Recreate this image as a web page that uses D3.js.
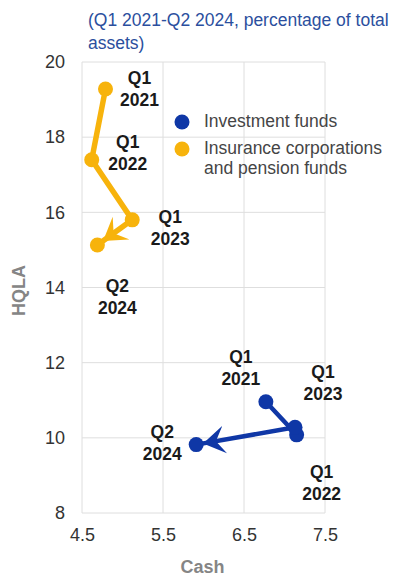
<!DOCTYPE html>
<html>
<head>
<meta charset="utf-8">
<script src="https://cdn.jsdelivr.net/npm/d3@7"></script>
<style>
  html, body { margin: 0; padding: 0; background: #fff; }
  svg { display: block; }
</style>
</head>
<body>
<svg id="chart" width="394" height="577"></svg>
<script>
// Cash vs HQLA holdings, percentage of total assets
const titleLines = ["(Q1 2021-Q2 2024, percentage of total", "assets)"];
const xTicks = [4.5, 5.5, 6.5, 7.5];
const yTicks = [8, 10, 12, 14, 16, 18, 20];
const legendLines = [["Investment funds"], ["Insurance corporations", "and pension funds"]];
const seriesColors = ["#0f37a6", "#f7b30c"];

const periods = ["Q1 2021", "Q1 2022", "Q1 2023", "Q2 2024"];
// [cash, HQLA] per period
const investmentFunds = [[6.77, 10.96], [7.15, 10.08], [7.13, 10.28], [5.91, 9.82]];
const insuranceFunds = [[4.79, 19.28], [4.62, 17.4], [5.12, 15.8], [4.69, 15.13]];

// label offsets (dx, dy of the first label line relative to the point)
const ifLabelPos = [[-25, -39], [25, 43], [28, -49], [-34, -7]];
const icLabelPos = [[34, -5], [36, -12], [38, 3], [20, 47]];

const svg = d3.select("#chart");
const plot = { left: 82, right: 325, top: 62, bottom: 513 };

const x = d3.scaleLinear().domain([4.5, 7.5]).range([plot.left, plot.right]);
const y = d3.scaleLinear().domain([8, 20]).range([plot.bottom, plot.top]);

const sans = "'Liberation Sans', Arial, sans-serif";

// title
svg.append("g").selectAll("text").data(titleLines).join("text")
  .attr("x", 88).attr("y", (d, i) => 26 + i * 23)
  .attr("font-family", sans).attr("font-size", 17.5)
  .attr("fill", "#2b4f9e").text(d => d);

// grid
const grid = svg.append("g");
grid.selectAll("line.v").data(xTicks).join("line")
  .attr("x1", d => x(d)).attr("x2", d => x(d))
  .attr("y1", plot.top).attr("y2", plot.bottom)
  .attr("stroke", "#dedede").attr("stroke-width", 1);
grid.selectAll("line.h").data(yTicks).join("line")
  .attr("x1", plot.left).attr("x2", plot.right)
  .attr("y1", d => y(d)).attr("y2", d => y(d))
  .attr("stroke", "#dedede").attr("stroke-width", 1);

// axes (tick labels only)
const xAxis = svg.append("g")
  .attr("transform", `translate(0,${plot.bottom})`)
  .call(d3.axisBottom(x).tickValues(xTicks).tickSize(0).tickPadding(15).tickFormat(d3.format(".1f")));
const yAxis = svg.append("g")
  .attr("transform", `translate(${plot.left},0)`)
  .call(d3.axisLeft(y).tickValues(yTicks).tickSize(0).tickPadding(17).tickFormat(d3.format("d")));
[xAxis, yAxis].forEach(a => {
  a.select(".domain").remove();
  a.selectAll("text").attr("font-family", sans).attr("font-size", 18).attr("fill", "#333");
});

// axis titles
svg.append("text").attr("x", (plot.left + plot.right) / 2 - 1).attr("y", 573)
  .attr("text-anchor", "middle").attr("font-family", sans).attr("font-weight", "bold")
  .attr("font-size", 18).attr("fill", "#858585").text("Cash");
svg.append("text").attr("transform", `translate(25,${(plot.top + plot.bottom) / 2 + 3}) rotate(-90)`)
  .attr("text-anchor", "middle").attr("font-family", sans).attr("font-weight", "bold")
  .attr("font-size", 18).attr("fill", "#858585").text("HQLA");

// arrowheads
const defs = svg.append("defs");
seriesColors.forEach((c, i) => {
  defs.append("marker")
    .attr("id", "arrow" + i)
    .attr("markerUnits", "userSpaceOnUse")
    .attr("viewBox", "0 -15 24 30")
    .attr("markerWidth", 24).attr("markerHeight", 30)
    .attr("refX", 29).attr("refY", 0)
    .attr("orient", "auto")
    .append("path")
    .attr("d", "M22,0 L0,-14 L9,0 L0,14 Z")
    .attr("fill", c);
});

const line = d3.line().x(d => x(d[0])).y(d => y(d[1]));
const seriesData = [investmentFunds, insuranceFunds];
const labelPos = [ifLabelPos, icLabelPos];
const widths = [4.5, 5.5];

seriesData.forEach((data, i) => {
  const g = svg.append("g");
  g.append("path").datum(data)
    .attr("d", line)
    .attr("fill", "none")
    .attr("stroke", seriesColors[i])
    .attr("stroke-width", widths[i])
    .attr("stroke-linejoin", "round")
    .attr("marker-end", `url(#arrow${i})`);
  g.selectAll("circle").data(data).join("circle")
    .attr("cx", d => x(d[0])).attr("cy", d => y(d[1]))
    .attr("r", 7.5).attr("fill", seriesColors[i]);
  // period labels
  const lbl = g.selectAll("text").data(data).join("text")
    .attr("text-anchor", "middle")
    .attr("font-family", sans).attr("font-weight", "bold")
    .attr("font-size", 17.5).attr("fill", "#1a1a1a");
  lbl.each(function(d, j) {
    const parts = periods[j].split(" ");
    const t = d3.select(this);
    parts.forEach((p, k) => {
      t.append("tspan")
        .attr("x", x(d[0]) + labelPos[i][j][0])
        .attr("y", y(d[1]) + labelPos[i][j][1] + k * 22)
        .text(p);
    });
  });
});

// legend
const legend = svg.append("g");
const legendDotY = [122, 149];
legendLines.forEach((lines, i) => {
  const cy = legendDotY[i];
  legend.append("circle").attr("cx", 182).attr("cy", cy).attr("r", 7.5).attr("fill", seriesColors[i]);
  lines.forEach((t, k) => {
    legend.append("text").attr("x", 204).attr("y", cy + 5 + k * 20)
      .attr("font-family", sans).attr("font-size", 17.5).attr("fill", "#454545")
      .text(t);
  });
});
</script>
</body>
</html>
